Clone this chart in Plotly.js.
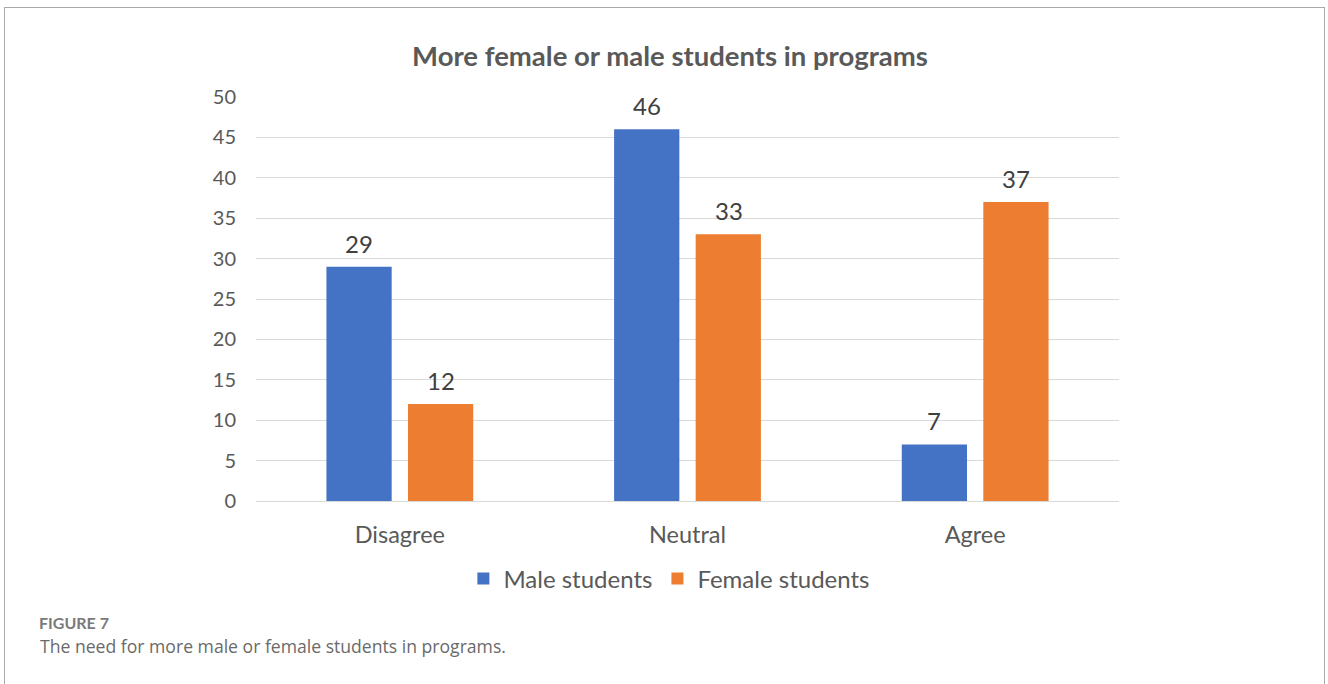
<!DOCTYPE html>
<html>
<head>
<meta charset="utf-8">
<script src="https://cdn.plot.ly/plotly-3.0.1.min.js"></script>
<style>
html,body{margin:0;padding:0;background:#fff;overflow:hidden;}
#frame{position:absolute;left:4px;top:7px;width:1321px;height:700px;border:1px solid #a9a9a9;border-bottom:none;box-sizing:border-box;pointer-events:none;}
#chart{position:absolute;left:0;top:0;width:1328px;height:684px;}
</style>
</head>
<body>
<div id="chart"></div>
<div id="frame"></div>
<script>
const categories = ["Disagree", "Neutral", "Agree"];
const maleValues = [29, 46, 7];
const femaleValues = [12, 33, 37];
const seriesNames = ["Male students", "Female students"];
const yTicks = [0, 5, 10, 15, 20, 25, 30, 35, 40, 45, 50];
const chartTitle = "More female or male students in programs";
const figureLabel = "FIGURE 7";
const captionText = "The need for more male or female students in programs.";

const font = "Lato, 'Open Sans', sans-serif";
const traces = [
  {type:'bar', name:seriesNames[0], x:categories, y:maleValues, marker:{color:'#4472C4'}, hoverinfo:'none'},
  {type:'bar', name:seriesNames[1], x:categories, y:femaleValues, marker:{color:'#ED7D31'}, hoverinfo:'none'}
];
const labelAnn = [];
[maleValues, femaleValues].forEach((vals, s) => {
  vals.forEach((v, i) => {
    labelAnn.push({x:categories[i], y:v, xref:'x', yref:'y', text:String(v), showarrow:false,
      xanchor:'center', yanchor:'bottom', xshift:(s === 0 ? -41 : 41), yshift:7,
      font:{family:font, size:24, color:'#404040'}});
  });
});
const layout = {
  width:1328, height:684,
  margin:{l:256, r:209, t:97, b:183},
  paper_bgcolor:'#fff', plot_bgcolor:'#fff',
  font:{family:font, color:'#595959'},
  title:{text:'<b>'+chartTitle+'</b>', font:{family:font, size:27.5, color:'#595959'},
         x:0.5045, xref:'container', xanchor:'center', y:0.917, yref:'container', yanchor:'middle'},
  barmode:'group', bargap:0.433, bargroupgap:0.2,
  xaxis:{showgrid:false, zeroline:false, showline:false, ticks:'',
         tickfont:{family:font, size:23.5, color:'#595959'}, ticklabelstandoff:17, fixedrange:true},
  yaxis:{range:[0,50], tickvals:yTicks, ticktext:yTicks.map(String), showgrid:true, gridcolor:'#d9d9d9', gridwidth:1,
         zeroline:true, zerolinecolor:'#d9d9d9', zerolinewidth:1, showline:false, ticks:'',
         tickfont:{family:font, size:20, color:'#595959'}, ticklabelstandoff:19, fixedrange:true},
  showlegend:true,
  legend:{orientation:'h', x:0.479, xanchor:'center', y:-0.193, yanchor:'middle',
          font:{family:font, size:24, color:'#595959'}, itemwidth:30, traceorder:'normal'},
  annotations:labelAnn.concat([
    {text:figureLabel, xref:'paper', yref:'paper', x:(37-256)/863, y:(501-622)/404, xanchor:'left', yanchor:'middle',
     showarrow:false, font:{family:font, size:16, weight:700, color:'#7a7a7a'}},
    {text:captionText, xref:'paper', yref:'paper', x:(38-256)/863, y:(501-646)/404, xanchor:'left', yanchor:'middle',
     showarrow:false, font:{family:"'Open Sans', sans-serif", size:17.6, color:'#6a6a6a'}}
  ])
};
Plotly.newPlot('chart', traces, layout, {displayModeBar:false, staticPlot:true});
</script>
</body>
</html>
